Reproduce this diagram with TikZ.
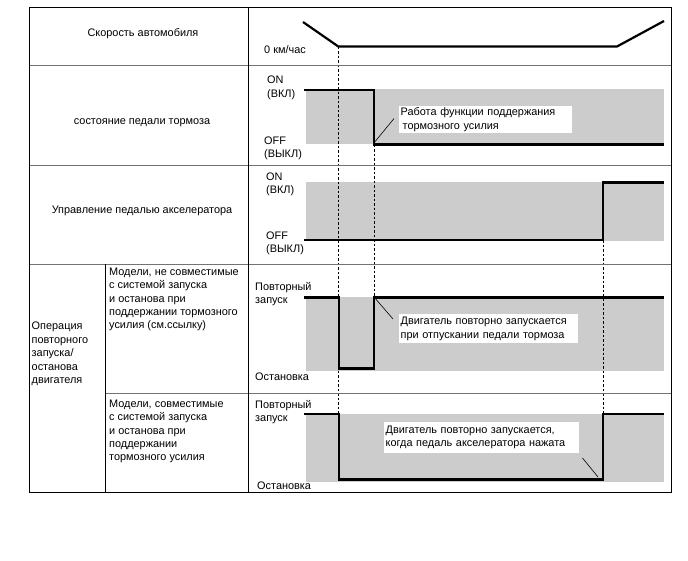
\documentclass[tikz,border=0pt]{standalone}
\usepackage{fontspec}
\setmainfont{Liberation Sans}
\usetikzlibrary{calc}

\begin{document}
\begin{tikzpicture}[x=1pt,y=-1pt]
\useasboundingbox[fill=white] (0,0) rectangle (688,560);
\tikzset{
    band/.style={fill=gray!40},
    frame/.style={draw=black,line width=0.9pt},
    rowline/.style={draw=gray!90!black,line width=0.9pt},
    signal/.style={line width=2.2pt},
    marker/.style={line width=0.6pt,dash pattern=on 2.5pt off 2pt},
    leader/.style={line width=0.6pt},
    note/.style={fill=white,inner sep=1.5pt,align=left,anchor=north west},
    label/.style={inner sep=0pt,align=left,anchor=west}
}
\begin{scope}[font=\fontsize{10.9}{13.4}\selectfont]
    % Shaded bands:
    \fill[band] (306,89) rectangle (664,144);
    \fill[band] (306,181.5) rectangle (664,240.5);
    \fill[band] (306,297) rectangle (664,370.5);
    \fill[band] (306,414) rectangle (664,481.5);

    % Instants:
    % Named at the edges of the signals, dashed lines run between them:
    \coordinate (stop)    at (338.3,46.5);
    \coordinate (stopdn)  at (338.3,414);
    \coordinate (release) at (374.3,144.5);
    \coordinate (reldn)   at (374.3,297.5);
    \coordinate (accel)   at (603,240);
    \coordinate (accdn)   at (603,414);
    \draw [marker] (stop) -- (stopdn);
    \draw [marker] (release) -- (reldn);
    \draw [marker] (accel) -- (accdn);

    % Notes:
    \node [note,text width=170pt,minimum height=26pt] (holdnote) at (399,106)
        {Работа функции поддержания\\\hspace{2pt}тормозного усилия};
    \node [note,text width=176pt,minimum height=29pt] (brakenote) at (399,314)
        {Двигатель повторно запускается\\при отпускании педали тормоза};
    \node [note,text width=192pt,minimum height=31pt] (accnote) at (384,421.5)
        {Двигатель повторно запускается,\\когда педаль акселератора нажата};

    % Signals:
    \draw [signal] (303,22) -- (stop) -- (617,46.5) -- (664,21);
    \draw [signal] (304,90) -- (374.3,90) -- (release) -- (664,144.5);
    \draw [signal] (304,240) -- (accel) -- (603,182.5) -- (664,182.5);
    \draw [signal] (304,297.5) -- (339,297.5) -- (339,368.5) -- (374.3,368.5) -- (reldn) -- (664,297.5);
    \draw [signal] (304,414) -- (339,414) -- (339,479.5) -- (603,479.5) -- (accdn) -- (664,414);

    % Leaders from the edges to the notes:
    \draw [leader] ($(release)+(0,-2)$) -- ($(holdnote.west)+(-5,-1)$);
    \draw [leader] ($(reldn)+(1,1)$) -- ($(brakenote.north west)+(-6,5)$);
    \draw [leader] ($(accdn)+(-5,63)$) -- ($(accnote.south east)+(3,5)$);

    % Table:
    \draw [rowline] (29.5,65.7) -- (671.5,65.7);
    \draw [rowline] (29.5,165.7) -- (671.5,165.7);
    \draw [rowline] (29.5,264.3) -- (671.5,264.3);
    \draw [rowline] (105.5,393.5) -- (671.5,393.5);
    \draw [frame] (248,7.5) -- (248,492.5);
    \draw [frame] (105.5,264.3) -- (105.5,492.5);
    \draw [frame] (29.5,7.5) rectangle (671.5,492.5);

    % Row titles:
    \node (speed)  at (143,33.3)  {Скорость автомобиля};
    \node (brake)  at (142,122.7) {состояние педали тормоза};
    \node (pedal)  at (142,211)   {Управление педалью акселератора};
    \node [label] (engine) at (31.5,354) {Операция\\повторного\\запуска/\\останова\\двигателя};
    \node [label] (nosys)  at (109,299.5) {Модели, не совместимые\\с системой запуска\\и останова при\\поддержании тормозного\\усилия (см.ссылку)};
    \node [label] (withsys) at (109,431.5) {Модели, совместимые\\с системой запуска\\и останова при\\поддержании\\тормозного усилия};

    % Levels:
    \node [label] (zero)    at (264,50)    {0 км/час};
    \node [label] (brakeon) at (267,87.7)  {ON\\(ВКЛ)};
    \node [label] (brakeoff) at (264,148.4) {OFF\\(ВЫКЛ)};
    \node [label] (pedalon) at (266,184.5) {ON\\(ВКЛ)};
    \node [label] (pedaloff) at (266,243.4) {OFF\\(ВЫКЛ)};
    \node [label] (restart) at (255,294) {Повторный\\запуск};
    \node [label] (halt)    at (255,376.5) {Остановка};
    \node [label] (restart2) at (255,412) {Повторный\\запуск};
    \node [label] (halt2)   at (257,486) {Остановка};
\end{scope}
\end{tikzpicture}
\end{document}
